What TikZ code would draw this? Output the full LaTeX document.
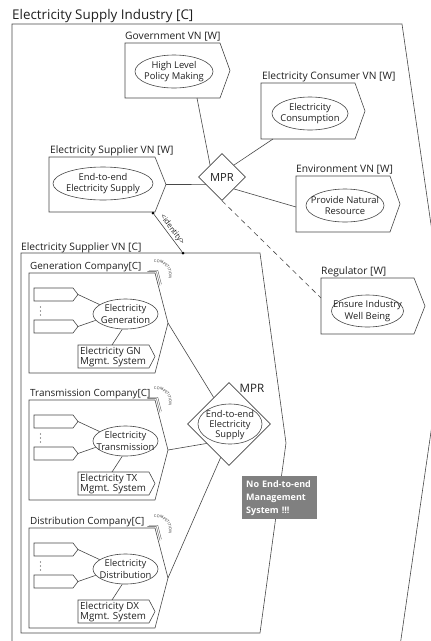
\documentclass[tikz,border=0pt]{standalone}
\usepackage{fontspec}
\setmainfont{Open Sans}
\usetikzlibrary{shapes.geometric,decorations.text,calc}

\tikzset{
  ln/.style={draw=black!72, line width=0.6pt},
  lbl/.style={anchor=base west, inner sep=0pt, text=black!88, font=\fontsize{10.25}{12}\selectfont},
  clbl/.style={lbl, font=\fontsize{9.9}{12}\selectfont},
  ptxt/.style={inner sep=0pt, align=center, text=black!88, font=\fontsize{9.4}{11.5}\selectfont},
  mtxt/.style={anchor=west, inner sep=0pt, align=left, text=black!88, font=\fontsize{9.8}{10.5}\selectfont},
  proc/.style={ellipse, ln, inner sep=0pt},
  mprbox/.style={diamond, ln, aspect=1, inner sep=0pt},
  dot/.style={circle, fill=black, inner sep=0pt, minimum size=3pt},
  comp/.style={ln, line width=0.35pt},
}

% pentagon box: name, left, top, right, bottom, x of the pointed tip
\newcommand\pent[6]{%
  \node[inner sep=0pt, outer sep=0pt, minimum width={(#4)-(#2)}, minimum height={(#5)-(#3)}]
    (#1) at ({((#2)+(#4))/2},{((#3)+(#5))/2}) {};
  \coordinate (#1-tip) at ({#6},{((#3)+(#5))/2});
  \draw[ln] (#1.north west) -- (#1.north east) -- (#1-tip) -- (#1.south east)
    -- (#1.south west) -- cycle;
}

% process ellipse with its text: name, x, y, width, height, text
\newcommand\proc[6]{%
  \node[proc, minimum width=#4, minimum height=#5] (#1) at ({#2},{#3}) {};
  \node[ptxt] (#1-t) at (#1) {#6};
}

% one company inside the supplier value network: prefix, top, label, process, system
\newcommand\company[5]{%
  \pent{#1}{29}{#2}{155}{(#2)+100}{168}
  \node[clbl] (#1-l) at ($(#1.north west)+(1,-3.5)$) {#3};
  \pent{#1-s1}{34}{(#2)+15}{73}{(#2)+28}{78}
  \pent{#1-s2}{34}{(#2)+47}{73}{(#2)+60}{78}
  \foreach \k in {34,38,42} \fill[black!75] (40.5,{(#2)+\k}) circle (0.7);
  \proc{#1-e}{125.5}{(#2)+41}{65}{30}{#4}
  \pent{#1-m}{78}{(#2)+72}{149}{(#2)+95}{155}
  \node[mtxt] (#1-mt) at ($(#1-m.west)+(2,0.5)$) {#5};
  \draw[ln] (#1-s1-tip) -- (#1-e.160);
  \draw[ln] (#1-s2-tip) -- (#1-e.192);
  \draw[ln] (#1-e.258) -- ($(#1-m.north west)+(34,0)$);
  % stacked edges and the competition mark
  \foreach \k in {1.4,2.8} \draw[comp]
    ($(#1.north east)+(-9+\k,-\k)$) -- ($(#1.north east)+(\k,-\k)$) -- ($(#1.north east)+(\k+3.6,14-\k)$);
  \begin{scope}[y=1pt]
    \path[decorate, decoration={text along path, text align=center,
        text={|\fontsize{3.8}{4}\selectfont\color{black!85}|COMPETITION}}]
      ($(#1.north east)+(1.5,-2)$) ++(115:12.5) arc[start angle=115, end angle=-30, radius=12.5];
  \end{scope}
}

\begin{document}
\begin{tikzpicture}[x=1pt, y=-1pt]
\useasboundingbox (0,0) rectangle (431,641);
\clip (0,0) rectangle (431,641);

% industry frame
\coordinate (esi-nw) at (12,24);
\node[lbl, font=\fontsize{13.4}{15}\selectfont] (esi-l) at (12,19.5) {Electricity Supply Industry [C]};
\draw[ln] (12,660) -- (esi-nw) -- (402,24) -- (446,328) -- (398,660);

% value networks around the market
\pent{gov}{125}{43}{220}{98}{230}
\node[lbl] (gov-l) at ($(gov.north west)+(0,-3.5)$) {Government VN [W]};
\proc{pol}{174}{71.5}{78}{33}{High Level\\Policy Making}

\pent{cons}{261}{83}{355}{139}{365}
\node[lbl] (cons-l) at ($(cons.north west)+(1,-3.5)$) {Electricity Consumer VN [W]};
\proc{use}{310}{113.5}{76}{33}{Electricity\\Consumption}

\pent{supw}{49}{157}{155}{212}{166}
\node[lbl] (supw-l) at ($(supw.north west)+(1,-3.5)$) {Electricity Supplier VN [W]};
\proc{sup}{103}{183.5}{100}{33}{End-to-end\\Electricity Supply}

\pent{env}{296}{176}{390}{232}{400}
\node[lbl] (env-l) at ($(env.north west)+(0,-3.5)$) {Environment VN [W]};
\proc{res}{345}{205.5}{78}{33}{Provide Natural\\Resource}

\pent{reg}{321}{278}{414}{334}{425}
\node[lbl] (reg-l) at ($(reg.north west)+(0,-3.5)$) {Regulator [W]};
\proc{well}{367.5}{311}{72}{32}{Ensure Industry\\Well Being}

% market place relationship
\node[mprbox, minimum size=47] (mpr) at (222,177) {};
\node[inner sep=0pt, font=\fontsize{11.2}{13}\selectfont, text=black!88] (mpr-t) at (mpr) {MPR};
\draw[ln] ($(gov.south west)+(72,0)$) -- (mpr.north west);
\draw[ln] (mpr.north east) -- ($(cons.south west)+(12,0)$);
\draw[ln] (supw-tip) -- (mpr.205);
\draw[ln] (mpr.south east) -- ($(env.west)+(0,3)$);
\draw[ln, dash pattern=on 5pt off 4pt] (mpr.south) -- ($(reg.west)+(0,-8)$);

% supplier value network, composite view
\pent{supc}{21}{253}{260}{633}{286}
\node[lbl] (supc-l) at ($(supc.north west)+(0,-2.5)$) {Electricity Supplier VN [C]};
\node[dot] (id-a) at ($(supw.south east)+(-2,1)$) {};
\node[dot] (id-b) at ($(supc.north west)+(162,0)$) {};
\draw[ln] (id-a) -- node[sloped, above, inner sep=1.2pt, font=\fontsize{7.6}{8}\selectfont, text=black!88] (id-t) {<identity>} (id-b);

\company{gen}{273}{Generation Company[C]}{Electricity\\Generation}{Electricity GN\\Mgmt. System}
\company{tx}{400}{Transmission Company[C]}{Electricity\\Transmission}{Electricity TX\\Mgmt. System}
\company{dx}{528}{Distribution Company[C]}{Electricity\\Distribution}{Electricity DX\\Mgmt. System}

% end-to-end supply relationship
\node[mprbox, minimum size=83] (mpr2) at (229,424) {};
\node[proc, minimum width=64, minimum height=40] (e2e) at (230,424) {};
\node[ptxt, font=\fontsize{9.3}{9.8}\selectfont] (e2e-t) at (230,425) {End-to-end\\Electricity\\Supply};
\node[inner sep=0pt, font=\fontsize{11.6}{14}\selectfont, text=black!88] (mpr2-t) at (252,388) {MPR};
\draw[ln] (gen-tip) -- (mpr2.120);
\draw[ln] (tx-tip) -- (mpr2.221);
\draw[ln] (dx-tip) -- (mpr2.256);

\node[fill=black!50, text=white, anchor=north west, minimum width=75, minimum height=43,
      inner sep=4pt, align=left, text width=67, font=\bfseries\fontsize{9}{13}\selectfont]
  (note) at (242,476) {No End-to-end\\Management\\System !!!};
\end{tikzpicture}
\end{document}
